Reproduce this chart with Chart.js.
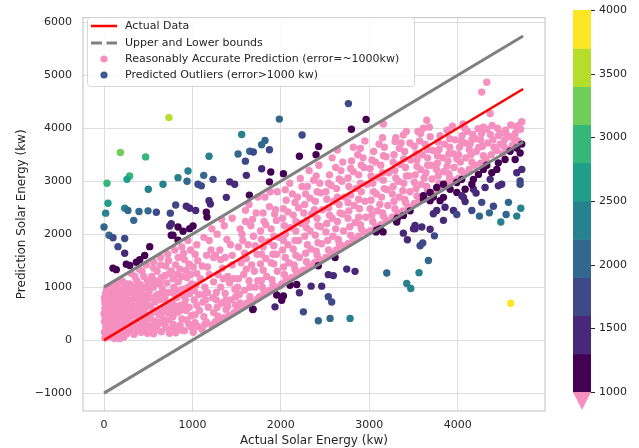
<!DOCTYPE html>
<html>
<head>
<meta charset="utf-8">
<script src="https://cdn.jsdelivr.net/npm/chart.js@4.4.1/dist/chart.umd.min.js"></script>
<style>
  html, body { margin: 0; padding: 0; background: #fff; }
</style>
</head>
<body>
<canvas id="grafico" width="639" height="448"></canvas>
<script>
// ticks and labels
const xTicks = [0, 1000, 2000, 3000, 4000];
const yTicks = [-1000, 0, 1000, 2000, 3000, 4000, 5000, 6000];
const cbTicks = [1000, 1500, 2000, 2500, 3000, 3500, 4000];
const cbBounds = [1000, 1300, 1600, 1900, 2200, 2500, 2800, 3100, 3400, 3700, 4000];
const cbColors = ["#440154", "#482878", "#3e4989", "#31688e", "#26828e", "#1f9e89", "#35b779", "#6ece58", "#b5de2b", "#fde725"];
const legendLabels = ["Actual Data", "Upper and Lower bounds", "Reasonably Accurate Prediction (error=~1000kw)", "Predicted Outliers (error>1000 kw)"];

// reference lines (actual value and +/- 1000 kw)
const lineX = [0, 4740];
const boundOffset = 1000;

// points with error below 1000 kw  [actual, predicted]
const accuratePoints = [
  [10,40],[30,120],[60,60],[90,180],[120,30],[150,110],[200,80],[230,160],[20,250],[50,320],[80,220],[110,290],[140,200],[170,340],[210,260],[240,310],
  [15,420],[45,480],[75,390],[100,450],[130,380],[160,500],[190,430],[220,470],[25,560],[55,620],[85,540],[115,600],[145,660],[175,580],[205,640],[235,700],
  [10,700],[40,760],[70,680],[100,740],[130,800],[160,720],[190,850],[220,780],[20,880],[60,900],[95,860],[125,940],[155,880],[185,960],[215,900],[245,1000],
  [35,990],[80,1030],[140,1060],[200,1120],[5,350],[65,150],[180,30],[240,560],[110,820],[30,620],[170,1100],[250,880],
  [260,120],[300,200],[340,110],[380,260],[420,150],[460,220],[490,130],[270,380],[310,460],[350,340],[390,420],[430,500],[470,380],[280,560],[320,640],[360,580],
  [400,700],[440,620],[480,760],[260,820],[300,900],[350,780],[390,880],[430,960],[470,840],[290,1060],[330,1000],[370,1120],[410,1050],[450,1200],[490,1120],
  [310,1260],[400,1340],[480,1420],[440,300],
  [510,180],[560,120],[600,260],[650,160],[700,240],[740,130],[520,420],[570,360],[620,480],[670,400],[720,520],[530,650],[580,720],[640,600],[690,780],[740,680],
  [510,920],[560,1000],[610,860],[660,960],[710,1080],[540,1200],[600,1300],[650,1180],[700,1400],[740,1260],[560,1480],[640,1560],[720,1620],[690,560],
  [760,200],[810,140],[860,280],[910,180],[960,300],[780,440],[830,520],[880,400],[930,560],[990,460],[770,700],[820,800],[870,660],[920,760],[970,880],
  [790,1000],[840,1100],[890,960],[940,1180],[990,1060],[760,1300],[810,1420],[860,1340],[910,1520],[960,1440],[800,1700],[880,1760],[950,1880],
  [1010,150],[1060,260],[1110,200],[1160,340],[1220,280],[1030,480],[1080,560],[1130,440],[1180,620],[1240,520],[1020,760],[1070,860],[1120,720],[1170,900],
  [1230,800],[1040,1040],[1090,1160],[1140,1000],[1190,1240],[1240,1100],[1010,1380],[1060,1500],[1110,1400],[1160,1600],[1210,1700],[1050,1800],[1130,1940],[1220,2100],
  [1260,350],[1310,400],[1360,420],[1410,460],[1470,520],[1280,620],[1330,700],[1380,580],[1440,760],[1490,660],[1270,900],[1320,1000],[1370,880],[1420,1080],
  [1480,960],[1290,1240],[1340,1360],[1400,1200],[1450,1420],[1260,1600],[1310,1700],[1370,1560],[1430,1800],[1280,2000],[1360,2160],[1450,2300],
  [1510,560],[1560,640],[1620,700],[1680,720],[1740,780],[1530,860],[1590,940],[1650,820],[1710,1000],[1520,1160],[1580,1240],[1640,1120],[1700,1300],
  [1550,1460],[1610,1540],[1670,1420],[1730,1620],[1520,1760],[1570,1880],[1630,1800],[1690,1960],[1540,2100],[1600,2240],[1660,2160],[1720,2400],[1640,2560],
  [1760,820],[1810,900],[1870,940],[1930,960],[1990,1020],[1780,1120],[1840,1200],[1900,1140],[1960,1300],[1770,1440],[1830,1540],[1890,1460],[1950,1620],
  [1800,1760],[1860,1860],[1920,1780],[1980,1940],[1770,2060],[1830,2180],[1890,2100],[1950,2260],[1800,2400],[1870,2520],[1940,2460],[1820,2700],[1960,2800],
  [2010,1060],[2060,1140],[2120,1180],[2180,1260],[2240,1300],[2030,1380],[2090,1460],[2150,1420],[2210,1560],[2020,1700],[2080,1800],[2140,1720],[2200,1880],
  [2050,2000],[2110,2120],[2170,2060],[2230,2200],[2020,2300],[2080,2420],[2140,2360],[2200,2500],[2060,2640],[2130,2760],[2190,2700],[2100,2960],[2220,3050],
  [2260,1320],[2320,1400],[2380,1460],[2440,1520],[2280,1640],[2340,1720],[2400,1680],[2460,1820],[2270,1960],[2330,2060],[2390,1980],[2450,2140],[2290,2260],
  [2350,2380],[2410,2300],[2470,2460],[2270,2560],[2330,2680],[2390,2620],[2450,2780],[2300,2900],[2370,3020],[2440,2960],[2320,3200],[2430,3300],
  [2510,1560],[2570,1640],[2630,1700],[2690,1780],[2530,1880],[2590,1960],[2650,1900],[2710,2060],[2520,2200],[2580,2300],[2640,2240],[2700,2380],[2540,2500],
  [2600,2620],[2660,2560],[2720,2700],[2510,2800],[2570,2920],[2630,2860],[2690,3000],[2550,3120],[2620,3260],[2680,3200],[2580,3440],[2640,3590],
  [2760,1820],[2820,1900],[2880,1960],[2940,2040],[2780,2140],[2840,2220],[2900,2180],[2960,2320],[2770,2440],[2830,2540],[2890,2480],[2950,2620],[2790,2740],
  [2850,2860],[2910,2800],[2970,2940],[2760,3060],[2820,3180],[2880,3120],[2940,3260],[2800,3380],[2870,3500],[2930,3440],[2820,3640],[2950,3760],
  [3010,2060],[3070,2140],[3130,2180],[3190,2260],[3030,2360],[3090,2440],[3150,2400],[3210,2540],[3020,2640],[3080,2760],[3140,2700],[3200,2840],
  [3040,2960],[3100,3080],[3160,3020],[3220,3160],[3010,3240],[3070,3360],[3130,3300],[3190,3460],[3050,3560],[3110,3700],[3170,3640],[3160,4080],
  [3260,2320],[3320,2400],[3380,2440],[3440,2520],[3280,2620],[3340,2700],[3400,2660],[3460,2800],[3270,2900],[3330,3000],[3390,2960],[3450,3100],
  [3290,3200],[3350,3320],[3410,3260],[3470,3400],[3280,3500],[3340,3620],[3400,3560],[3460,3720],[3300,3820],[3420,3940],[3386,3873],[3292,3750],
  [3510,2580],[3570,2660],[3630,2720],[3690,2780],[3530,2860],[3590,2940],[3650,2900],[3710,3040],[3520,3120],[3580,3220],[3640,3160],[3700,3300],
  [3540,3400],[3600,3500],[3660,3440],[3720,3580],[3510,3660],[3570,3760],[3630,3700],[3690,3840],[3550,3940],[3680,4020],[3650,4150],[3612,3998],
  [3760,2820],[3820,2900],[3880,2960],[3940,3020],[3780,3100],[3840,3180],[3900,3140],[3960,3260],[3770,3340],[3830,3440],[3890,3380],[3950,3520],
  [3790,3600],[3850,3700],[3910,3640],[3970,3780],[3800,3860],[3880,3960],[3940,4040],[3990,3420],
  [4010,3050],[4070,3150],[4130,3220],[4190,3300],[4030,3360],[4090,3440],[4150,3500],[4210,3560],[4020,3640],[4080,3720],[4140,3700],[4200,3800],
  [4050,3860],[4110,3940],[4170,3880],[4230,3990],[4060,4080],[4240,3640],
  [4260,3340],[4320,3420],[4380,3500],[4440,3580],[4280,3660],[4340,3720],[4400,3780],[4460,3860],[4270,3900],[4330,3980],[4390,4050],[4450,4000],
  [4367,4277],[4272,4681],[4329,4868],[4480,3700],
  [4510,3520],[4560,3600],[4620,3680],[4680,3760],[4530,3780],[4590,3840],[4650,3900],[4710,3980],[4555,3873],[4661,4030],[4725,4123],[4600,4060]
];

// more accurate points, dense near the origin and lighter further out
const accuratePointsFill = [
  [5,150],[25,200],[45,90],[70,300],[95,130],[105,360],[135,260],[160,160],[185,230],[205,370],[225,60],[250,200],[15,520],[40,400],[65,450],[90,600],
  [120,520],[150,430],[180,650],[210,540],[230,620],[5,800],[50,700],[85,780],[115,680],[150,790],[200,700],[240,820],[30,940],[70,820],[110,1000],
  [165,960],[230,1080],[0,500],[10,600],
  [270,260],[320,300],[360,180],[410,330],[450,420],[490,300],[285,480],[335,520],[375,480],[415,590],[455,530],[495,640],[270,700],[320,760],[380,650],
  [420,800],[460,720],[280,960],[340,880],[380,1000],[420,930],[460,1000],[350,1200],[430,1300],[495,1000],
  [530,250],[580,180],[625,340],[680,300],[725,380],[545,520],[595,560],[650,520],[700,640],[520,800],[590,840],[640,760],[680,880],[730,900],[520,1100],
  [580,1120],[630,1060],[690,1220],[560,1360],[640,1420],[730,1500],
  [780,300],[830,240],[880,190],[935,380],[985,250],[760,560],[810,640],[860,560],[910,660],[960,620],[790,880],[850,940],[900,840],[950,1000],[780,1160],
  [830,1240],[880,1200],[930,1320],[980,1240],[840,1560],[900,1640],[980,1700],
  [1030,330],[1140,300],[1050,660],[1150,760],[1020,940],[1130,860],[1050,1260],[1170,1380],[1030,1620],[1190,1880],[1240,1560],
  [1290,450],[1400,640],[1270,760],[1380,760],[1490,820],[1350,1160],[1470,1160],[1320,1520],[1450,1600],[1390,1900],[1330,2280],
  [1540,700],[1650,1000],[1510,1000],[1610,1340],[1740,1120],[1590,1640],[1710,1780],[1560,2000],[1680,2280],[1600,2450],[1740,2700],
  [1790,1000],[1910,1040],[1800,1320],[1920,1440],[1780,1620],[1910,1620],[1780,1900],[1920,1960],[1810,2240],[1930,2380],[1880,2800],
  [2040,1240],[2160,1340],[2050,1560],[2170,1600],[2030,1880],[2160,1880],[2040,2160],[2170,2240],[2030,2480],[2160,2600],[2050,2840],[2240,2900],
  [2290,1480],[2410,1600],[2300,1800],[2420,1840],[2290,2120],[2420,2160],[2260,2400],[2380,2460],[2280,2760],[2410,2800],[2400,3100],
  [2540,1700],[2660,1820],[2510,2040],[2620,2100],[2550,2360],[2670,2400],[2520,2660],[2640,2700],[2540,2960],[2660,3040],[2700,3360],
  [2790,1980],[2910,2100],[2760,2300],[2880,2320],[2760,2600],[2880,2660],[2770,2900],[2900,2960],[2790,3240],[2910,3300],[2900,3620],
  [3040,2240],[3160,2340],[3010,2480],[3120,2560],[3050,2800],[3170,2860],[3020,3100],[3150,3160],[3030,3400],[3160,3480],[3150,3820],
  [3290,2480],[3410,2600],[3260,2760],[3380,2820],[3300,3060],[3420,3100],[3270,3360],[3390,3420],[3360,3720],
  [3540,2720],[3660,2820],[3510,2980],[3620,3060],[3540,3280],[3660,3300],[3530,3520],[3660,3600],[3580,3900],
  [3790,2960],[3910,3060],[3760,3220],[3880,3280],[3770,3480],[3900,3520],[3780,3740],[3910,3800],
  [4040,3200],[4160,3360],[4010,3500],[4130,3600],[4040,3760],[4160,3780],[4080,4000],
  [4290,3480],[4410,3640],[4260,3780],[4370,3880],[4290,4020],[4480,3900],
  [4520,3660],[4640,3800],[4540,3960],[4690,4050]
];

// points with error above 1000 kw  [actual, predicted]
const outlierPoints = [
  [735,4200],[185,3540],[471,3458],[1557,3881],[1188,3471],[1516,3514],[1599,3378],[1648,3564],[1610,3110],[290,3099],[260,3035],[34,2961],
  [667,2942],[501,2849],[950,3192],[837,3067],[939,2998],[1128,3110],[1063,2942],[1101,2912],[1233,3035],[1422,2987],[1478,2942],[45,2583],
  [19,2397],[0,2136],[234,2490],[271,2447],[396,2428],[498,2440],[592,2415],[336,2261],[811,2551],[750,2397],[931,2527],[969,2490],[1037,2447],
  [1188,2633],[1203,2570],[1157,2415],[1165,2322],[1384,2695],[761,2197],[743,2155],[837,2136],[969,2104],[1007,2155],[894,2056],[761,1981],
  [57,1981],[102,1931],[234,1918],[158,1764],[234,1639],[252,1434],[291,1410],[102,1359],[139,1330],[460,1596],[517,1764],[366,1471],[404,1516],
  [780,1981],[837,1888],
  [1983,4172],[2764,4464],[2964,4166],[2798,3980],[2240,3873],[2428,3657],[2210,3471],[2398,3501],[1821,3769],[1783,3687],[1871,3594],[1689,3551],
  [1783,3235],[1886,3173],[2029,3142],[1871,2987],[1644,2737],
  [1686,585],[3122,2104],[3085,2074],[3198,1267],[2613,1559],[2424,1404],[2537,1236],[2594,1218],[2745,1341],[2839,1298],[2104,1037],[2180,1050],
  [2342,1019],[2462,1019],[2210,894],[1953,851],[2029,832],[2010,752],[1934,628],[1682,577],[2537,819],[2575,721],[2255,534],[2424,367],[2557,410],
  [2783,410],[3424,1069],[3469,976],[3563,1274],[3669,1503],[3575,1782],[3605,1832],[3386,2019],[3431,1894],[3518,2104],[3688,2093],[3737,1968],[4600,696],
  [4706,2942],[4574,2601],[4714,2490],[4668,2341],[4548,2372],[4488,2229],[4404,2527],[4359,2402],[4272,2601],[4246,2341],[4160,2447],[4084,2615],
  [4065,2695],[4178,2849],[4208,2775],[4310,2881],[4460,2912],[4498,2942],[3990,2788],[4046,2726],[3952,2447],[3990,2372],[3839,2261],[3725,2384],
  [3763,2447],[3801,2633],[3839,2695],[3857,2508],[3612,2663],[3688,2633],[3303,2261],[3318,2300],[3386,2350],[3311,2229],[3462,2440],[3500,2104],
  [3518,2166],[3594,2135],[3725,2700],[3077,2043],[3156,2043],
  [4725,3700],[4668,3626],[4706,3533],[4593,3564],[4650,3408],[4725,3222],[4668,3160],[4706,3005],[4536,3408],[4460,3346],[4442,3222],[4386,3160],
  [4367,3035],[4291,3222],[4235,3128],[4178,3035],[4160,2942],[4046,3035],[3990,2974],[4084,2849],[3914,2849],[3839,2942],[3763,2881],[3688,2788],
  [3612,2726],[4329,3300]
];

const corRosa = "#f58fbf";
const corLegendaAzul = "#3d5a94";
const corTexto = "#262626";

function corDoErro(p) {
  const erro = Math.abs(p[1] - p[0]);
  let i = 0;
  while (i < cbColors.length - 1 && erro >= cbBounds[i + 1]) i++;
  return cbColors[i];
}

function formatar(v) {
  return String(v).replace("-", "\u2212");
}

Chart.defaults.font.family = "'DejaVu Sans', sans-serif";

// legenda, moldura e barra de cores desenhadas a mao
const extras = {
  id: "extras",
  afterDraw(chart) {
    const ctx = chart.ctx;
    const a = chart.chartArea;
    ctx.save();

    // moldura
    ctx.strokeStyle = "#cccccc";
    ctx.lineWidth = 1.2;
    ctx.strokeRect(a.left, a.top, a.right - a.left, a.bottom - a.top);

    // legenda
    const lx = 87, ly = 17, lw = 327, lh = 69;
    ctx.fillStyle = "rgba(255,255,255,0.85)";
    ctx.strokeStyle = "#d6d6d6";
    ctx.lineWidth = 1;
    ctx.beginPath();
    ctx.roundRect(lx + 0.5, ly + 0.5, lw, lh, 3);
    ctx.fill();
    ctx.stroke();

    const linhas = [26, 43, 59, 75];
    ctx.lineCap = "butt";
    ctx.strokeStyle = "red";
    ctx.lineWidth = 2.5;
    ctx.beginPath(); ctx.moveTo(91, linhas[0]); ctx.lineTo(117, linhas[0]); ctx.stroke();
    ctx.strokeStyle = "gray";
    ctx.lineWidth = 3;
    ctx.setLineDash([11, 4.5]);
    ctx.beginPath(); ctx.moveTo(91, linhas[1]); ctx.lineTo(117, linhas[1]); ctx.stroke();
    ctx.setLineDash([]);
    ctx.fillStyle = corRosa;
    ctx.beginPath(); ctx.arc(104, linhas[2], 3.6, 0, Math.PI * 2); ctx.fill();
    ctx.fillStyle = corLegendaAzul;
    ctx.beginPath(); ctx.arc(104, linhas[3], 3.6, 0, Math.PI * 2); ctx.fill();

    ctx.fillStyle = corTexto;
    ctx.font = "11px 'DejaVu Sans'";
    ctx.textBaseline = "middle";
    ctx.textAlign = "left";
    legendLabels.forEach((t, i) => ctx.fillText(t, 125, linhas[i]));

    // barra de cores
    const cl = 573, cr = 591, ct = 10, cb = 392;
    const vy = v => cb - (v - cbBounds[0]) / (cbBounds[cbBounds.length - 1] - cbBounds[0]) * (cb - ct);
    cbColors.forEach((c, i) => {
      ctx.fillStyle = c;
      const y1 = vy(cbBounds[i + 1]), y0 = vy(cbBounds[i]);
      ctx.fillRect(cl, y1, cr - cl, y0 - y1 + 0.5);
    });
    ctx.fillStyle = corRosa;
    ctx.beginPath();
    ctx.moveTo(cl, cb); ctx.lineTo(cr, cb); ctx.lineTo((cl + cr) / 2, cb + 18); ctx.closePath();
    ctx.fill();

    ctx.strokeStyle = corTexto;
    ctx.lineWidth = 1;
    ctx.fillStyle = corTexto;
    cbTicks.forEach(v => {
      const y = Math.round(vy(v)) + 0.5;
      ctx.beginPath(); ctx.moveTo(cr, y); ctx.lineTo(cr + 4, y); ctx.stroke();
      ctx.fillText(formatar(v), cr + 8, y);
    });

    ctx.restore();
  }
};

const ctx = document.getElementById("grafico").getContext("2d");
const todosAcertos = accuratePoints.concat(accuratePointsFill);

new Chart(ctx, {
  type: "scatter",
  data: {
    datasets: [
      {
        label: legendLabels[0],
        data: lineX.map(x => ({ x: x, y: x })),
        showLine: true,
        borderColor: "red",
        borderWidth: 2.5,
        pointRadius: 0,
        order: 0
      },
      {
        label: legendLabels[1],
        data: lineX.map(x => ({ x: x, y: x + boundOffset })),
        showLine: true,
        borderColor: "gray",
        borderWidth: 3,
        pointRadius: 0,
        order: 0
      },
      {
        label: legendLabels[1],
        data: lineX.map(x => ({ x: x, y: x - boundOffset })),
        showLine: true,
        borderColor: "gray",
        borderWidth: 3,
        pointRadius: 0,
        order: 0
      },
      {
        label: legendLabels[3],
        data: outlierPoints.map(p => ({ x: p[0], y: p[1] })),
        backgroundColor: outlierPoints.map(corDoErro),
        borderWidth: 0,
        pointRadius: 3.7,
        order: 1
      },
      {
        label: legendLabels[2],
        data: todosAcertos.map(p => ({ x: p[0], y: p[1] })),
        backgroundColor: corRosa,
        borderWidth: 0,
        pointRadius: 3.7,
        order: 2
      }
    ]
  },
  options: {
    responsive: false,
    animation: false,
    layout: { padding: { top: 13, right: 94, left: 0, bottom: 0 } },
    plugins: {
      legend: { display: false },
      tooltip: { enabled: false }
    },
    scales: {
      x: {
        type: "linear",
        min: -237.5,
        max: 4987.5,
        afterBuildTicks: s => { s.ticks = xTicks.map(v => ({ value: v })); },
        afterFit: s => { s.height = 37; },
        grid: { color: "#dddddd", drawTicks: false },
        border: { display: false },
        ticks: { padding: 8, color: corTexto, font: { size: 11 }, maxRotation: 0, callback: v => formatar(v) },
        title: { display: true, text: "Actual Solar Energy (kw)", color: corTexto, font: { size: 12 }, padding: 0 }
      },
      y: {
        type: "linear",
        min: -1337.5,
        max: 6087.5,
        afterBuildTicks: s => { s.ticks = yTicks.map(v => ({ value: v })); },
        afterFit: s => { s.width = 83; },
        grid: { color: "#dddddd", drawTicks: false },
        border: { display: false },
        ticks: { padding: 11, color: corTexto, font: { size: 11 }, callback: v => formatar(v) },
        title: { display: true, text: "Prediction Solar Energy (kw)", color: corTexto, font: { size: 12 }, padding: { top: 15, bottom: 0 } }
      }
    }
  },
  plugins: [extras]
});
</script>
</body>
</html>
